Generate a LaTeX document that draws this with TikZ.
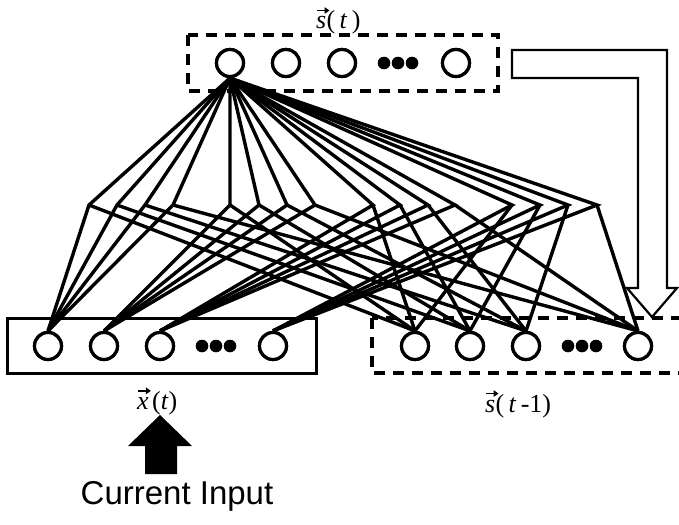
\documentclass[tikz,border=0pt]{standalone}
\usepackage{fontspec}
\setmainfont{Liberation Serif}
\newfontfamily\captionsans{Liberation Sans}
\usetikzlibrary{calc,arrows.meta}

\begin{document}
\begin{tikzpicture}[x=1pt,y=-1pt,
  unit/.style={circle,draw,fill=white,line width=3.2pt,minimum size=27pt,inner sep=0pt},
  link/.style={line width=3.4pt,line join=miter},
  layerbox/.style={draw,line width=3pt},
  dashedbox/.style={draw,line width=3.6pt,dash pattern=on 11pt off 8pt},
  dotfill/.style={fill=black},
  labelfont/.style={font=\fontsize{26}{26}\selectfont,inner sep=0pt},
  vecarrow/.style={line width=1.8pt,-{Triangle[length=5pt,width=6.5pt]}},
]
\useasboundingbox (0,0) rectangle (679,524);
\clip (0,0) rectangle (679,524);

% layer frames
\draw[dashedbox] (188,35) rectangle (498,91);
\draw[layerbox] (7,318) rectangle (316,373);
\draw[dashedbox] (372,318) rectangle (700,373);

% hidden bend points, four groups of four
\coordinate (h11) at (89,205);  \coordinate (h12) at (117,205);
\coordinate (h13) at (145,205); \coordinate (h14) at (173,205);
\coordinate (h21) at (230,205); \coordinate (h22) at (259,205);
\coordinate (h23) at (287,205); \coordinate (h24) at (315,205);
\coordinate (h31) at (373,205); \coordinate (h32) at (400,205);
\coordinate (h33) at (428,205); \coordinate (h34) at (455,205);
\coordinate (h41) at (512,205); \coordinate (h42) at (540,205);
\coordinate (h43) at (568,205); \coordinate (h44) at (597,205);

% units (placed first so their anchors exist, redrawn on top below)
\path (230,63) node[unit] (t1) {} (286,63) node[unit] (t2) {}
      (342,63) node[unit] (t3) {} (456,63) node[unit] (t4) {};
\path (48,346) node[unit] (i1) {} (104,346) node[unit] (i2) {}
      (160,346) node[unit] (i3) {} (273,346) node[unit] (i4) {};
\path (415,346) node[unit] (c1) {} (470,346) node[unit] (c2) {}
      (526,346) node[unit] (c3) {} (638,346) node[unit] (c4) {};

% connections
\foreach \g in {1,...,4}{
  \foreach \j in {1,...,4}{
    \draw[link] (i\g.north) -- (h\g\j) -- (t1.south);
    \draw[link] (h\g\j) -- (c\j.north);
  }
}

% units on top of the connections
\path (230,63) node[unit] {} (286,63) node[unit] {}
      (342,63) node[unit] {} (456,63) node[unit] {};
\path (48,346) node[unit] {} (104,346) node[unit] {}
      (160,346) node[unit] {} (273,346) node[unit] {};
\path (415,346) node[unit] {} (470,346) node[unit] {}
      (526,346) node[unit] {} (638,346) node[unit] {};

% ellipsis dots
\foreach \x in {384,398,412}{\fill[dotfill] (\x,63) circle (6.3);}
\foreach \x in {202,216,230}{\fill[dotfill] (\x,346) circle (6.3);}
\foreach \x in {568,582,596}{\fill[dotfill] (\x,346) circle (6.3);}

% feedback arrow from the top layer to the context layer
\draw[line width=2.2pt,line join=miter]
  (512,50) -- (667,50) -- (667,288) -- (677,288) -- (652,317)
  -- (627,288) -- (638,288) -- (638,78) -- (512,78) -- cycle;

% input arrow
\fill (160,415) -- (192,446) -- (177,446) -- (177,474) -- (145,474)
  -- (145,446) -- (128,446) -- cycle;

% layer labels: italic vector letter plus argument, arrow drawn above
\node[labelfont,anchor=base west] (ts) at (316,29) {\textit{s}};
\node[labelfont,anchor=base west] (targ) at (ts.base east) {(\,\textit{t}\,)};
\draw[vecarrow] ($(ts.north west)+(1,-6)$) -- ($(ts.north east)+(3,-6)$);

\node[labelfont,anchor=base west] (xx) at (137,409) {\textit{x}};
\node[labelfont,anchor=base west] (xarg) at ($(xx.base east)+(3,0)$) {(\textit{t})};
\draw[vecarrow] ($(xx.north west)+(1,-6)$) -- ($(xx.north east)+(2,-6)$);

\node[labelfont,anchor=base west] (cs) at (485,412) {\textit{s}};
\node[labelfont,anchor=base west] (carg) at (cs.base east) {(\,\textit{t}\,-1)};
\draw[vecarrow] ($(cs.north west)+(1,-6)$) -- ($(cs.north east)+(3,-6)$);

\node[font=\captionsans\fontsize{33}{33}\selectfont,inner sep=0pt,anchor=base] (cap) at (177,504) {Current Input};
\end{tikzpicture}
\end{document}
